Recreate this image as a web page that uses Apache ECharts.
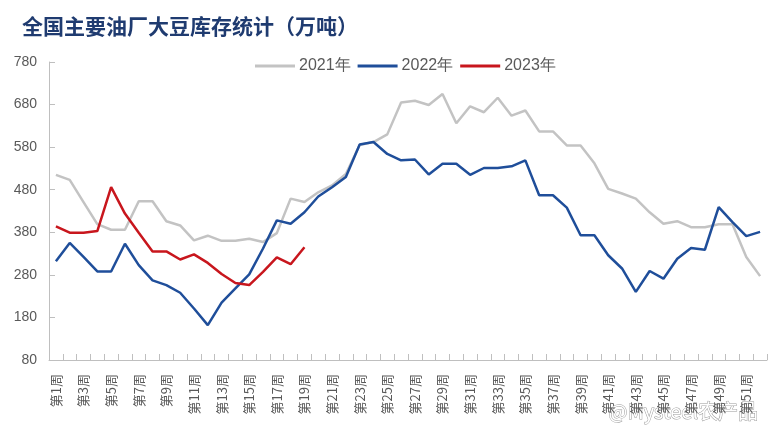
<!DOCTYPE html>
<html>
<head>
<meta charset="utf-8">
<script src="https://cdn.jsdelivr.net/npm/echarts@6/dist/echarts.min.js"></script>
<style>
html,body{margin:0;padding:0;background:#fff;}
#chart{width:783px;height:443px;}
</style>
</head>
<body>
<div id="chart"></div>
<script>
var titleText = '全国主要油厂大豆库存统计（万吨）';
var weeks = [];
for (var i = 1; i <= 52; i++) weeks.push('第' + i + '周');
var seriesNames = ['2021年', '2022年', '2023年'];
var yTicks = [80, 180, 280, 380, 480, 580, 680, 780];

var data2021 = [515, 503, 451, 399, 386, 386, 453, 453, 406, 396,
                361, 372, 360, 360, 365, 357, 378, 459, 451, 474,
                490, 517, 585, 592, 610, 685, 689, 679, 705, 636,
                676, 662, 696, 654, 666, 617, 617, 584, 584, 542,
                482, 471, 459, 427, 400, 406, 392, 392, 399, 399,
                322, 277];
var data2022 = [312, 355, 322, 288, 288, 353, 303, 267, 256, 238,
                201, 162, 215, 248, 281, 342, 408, 400, 427, 464,
                486, 510, 586, 592, 564, 549, 551, 516, 541, 541,
                515, 531, 531, 535, 549, 467, 467, 438, 373, 373,
                326, 295, 240, 289, 271, 318, 343, 339, 439, 404,
                371, 381];
var data2023 = [394, 379, 379, 383, 486, 424, 379, 335, 335, 316,
                328, 308, 282, 261, 256, 287, 321, 305, 345];

var chart = echarts.init(document.getElementById('chart'));
var axisColor = '#BFBFBF';
var textColor = '#595959';
chart.setOption({
  backgroundColor: '#fff',
  animation: false,
  title: {
    text: titleText,
    left: 17, top: 11,
    textStyle: {fontFamily: 'Noto Sans CJK SC', fontWeight: 'bold', fontSize: 21, color: '#1F3B70'}
  },
  legend: {
    data: seriesNames,
    left: 250, top: 53,
    itemWidth: 40, itemHeight: 16, itemGap: 7,
    icon: 'path://M0,0L40,0L40,3L0,3Z',
    textStyle: {fontFamily: 'Liberation Sans, Arial, sans-serif', fontSize: 16, color: textColor, padding: [0, 0, 0, -1]}
  },
  grid: {left: 49, right: 16, top: 62, bottom: 83, containLabel: false},
  xAxis: {
    type: 'category',
    data: weeks,
    boundaryGap: true,
    axisLine: {lineStyle: {color: axisColor, width: 1}},
    axisTick: {show: true, inside: true, length: 6, interval: 0, lineStyle: {color: axisColor}},
    axisLabel: {interval: 1, rotate: 90, fontSize: 13, color: textColor, margin: 14,
                fontFamily: 'Noto Sans CJK SC'},
    splitLine: {show: false}
  },
  yAxis: {
    type: 'value',
    min: yTicks[0], max: yTicks[yTicks.length - 1], interval: 100,
    axisLine: {show: true, lineStyle: {color: axisColor, width: 1}},
    axisTick: {show: true, inside: true, length: 6, lineStyle: {color: axisColor}},
    axisLabel: {fontSize: 14, color: textColor, margin: 12, fontFamily: 'Liberation Sans, Arial, sans-serif'},
    splitLine: {show: false}
  },
  series: [
    {name: seriesNames[0], type: 'line', data: data2021, symbol: 'none',
     lineStyle: {color: '#C3C3C3', width: 2.5}, itemStyle: {color: '#C3C3C3'}},
    {name: seriesNames[1], type: 'line', data: data2022, symbol: 'none',
     lineStyle: {color: '#1F4E9A', width: 2.5}, itemStyle: {color: '#1F4E9A'}},
    {name: seriesNames[2], type: 'line', data: data2023, symbol: 'none',
     lineStyle: {color: '#C8161D', width: 2.5}, itemStyle: {color: '#C8161D'}}
  ],
  graphic: [{
    type: 'text', left: 608, top: 401,
    style: {text: '@Mysteel农产品', fontSize: 20, fill: '#ffffff', stroke: '#9a9a9a', lineWidth: 1,
            fontFamily: 'Noto Sans CJK SC'}
  }]
});
</script>
</body>
</html>
